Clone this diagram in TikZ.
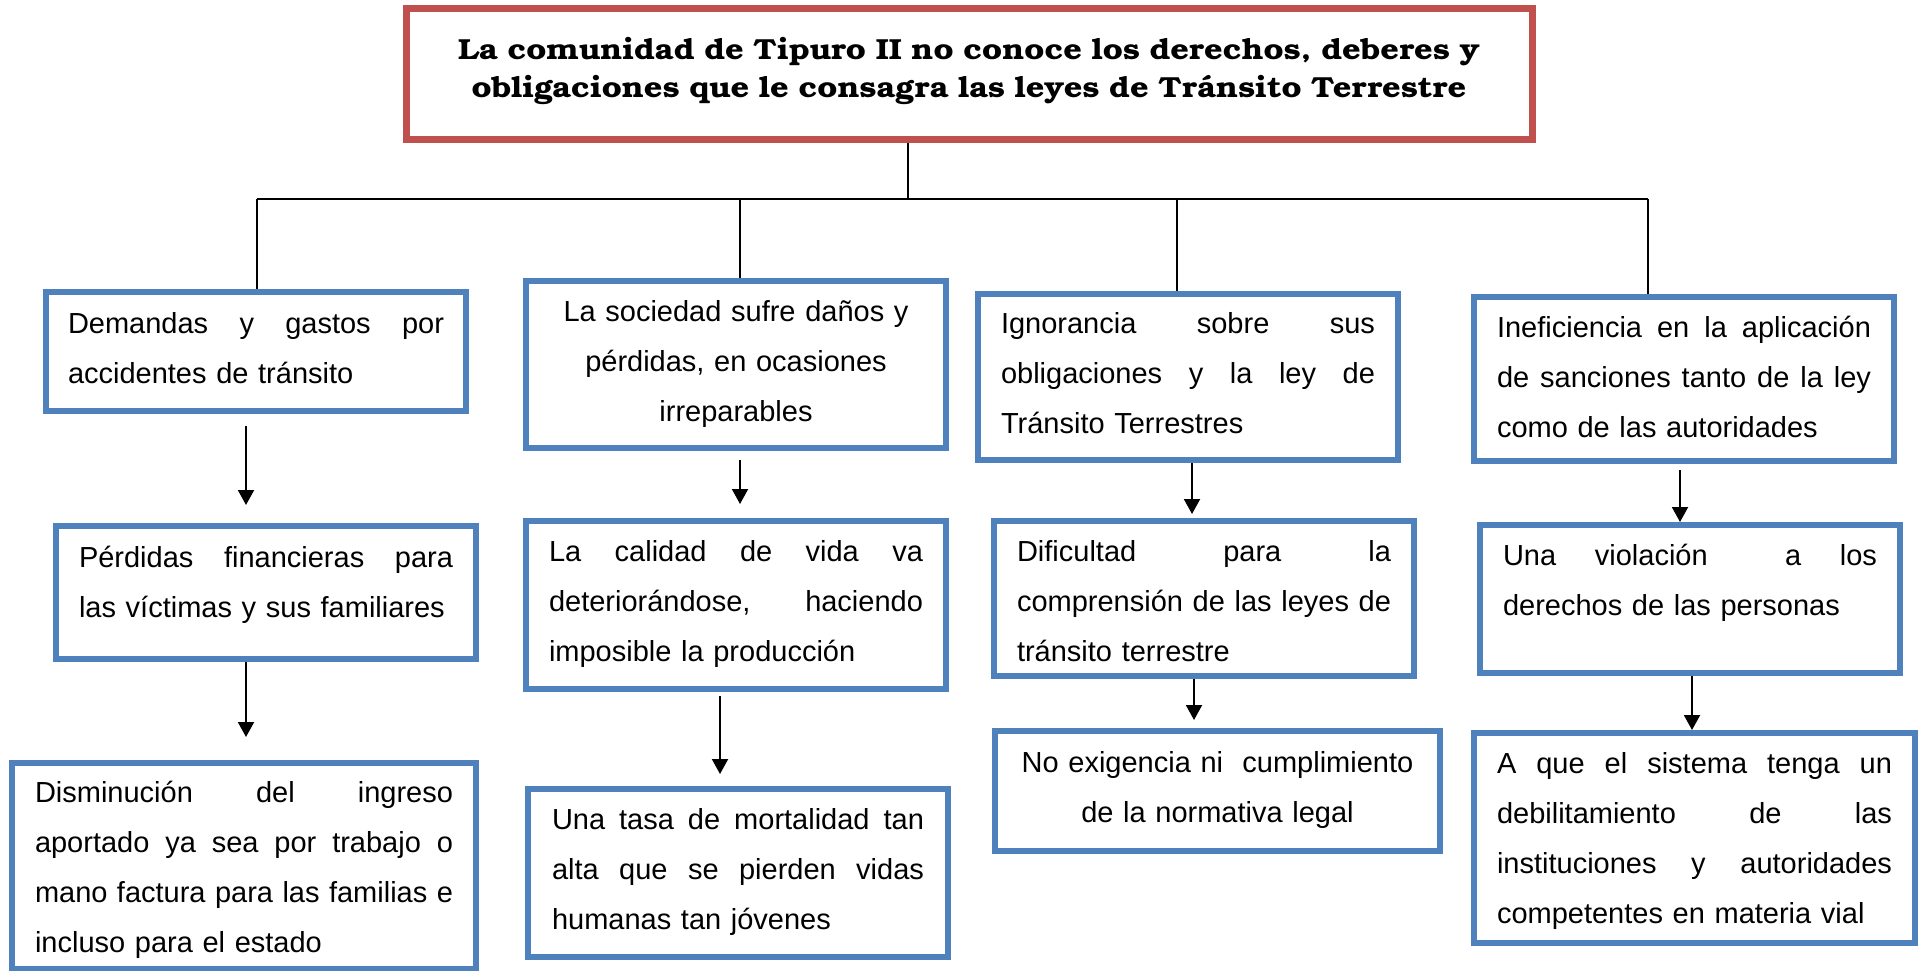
\documentclass[tikz,border=0pt]{standalone}
\usepackage{fontspec}
\newfontfamily\bodyfont{Liberation Sans}
\newfontfamily\titlefont{TeX Gyre Bonum}[FakeStretch=1.12]
\usetikzlibrary{arrows.meta,calc}
\definecolor{boxblue}{RGB}{79,129,189}
\definecolor{boxred}{RGB}{192,80,77}
\newcommand{\jl}[1]{\leavevmode\hbox to \hsize{#1}\par}
\newcommand{\ql}[1]{\leavevmode\hbox to \hsize{#1\hfil}\par}
\newcommand{\ctl}[1]{\leavevmode\hbox to \hsize{\hfil#1\hfil}\par}
\hbadness=10000
\begin{document}
\begin{tikzpicture}[x=1pt,y=-1pt,
  cbox/.style={draw=boxblue, line width=6.5pt, inner ysep=0pt, outer sep=0pt,
    anchor=north west, font=\bodyfont\fontsize{29}{50}\selectfont},
  tbox/.style={draw=boxred, line width=7pt, inner ysep=0pt, outer sep=0pt,
    anchor=north west, font=\titlefont\bfseries\fontsize{29}{38}\selectfont},
  conn/.style={line width=2pt},
  arr/.style={line width=2pt, -{Triangle[width=16pt,length=15pt]}}]
\useasboundingbox (0,0) rectangle (1927,971);

\node[tbox, inner xsep=20pt, text width=1086pt, text height=51pt, text depth=80pt] (top) at (406,9)
 {\ctl{La comunidad de Tipuro II no conoce los derechos, deberes y}\ctl{obligaciones que le consagra las leyes de Tránsito Terrestre}};

\node[cbox, inner xsep=22pt, text width=376pt, text height=41pt, text depth=78pt] (b1) at (46,292)
 {\jl{Demandas\hfill y\hfill gastos\hfill por}\ql{accidentes de tránsito}};
\node[cbox, inner xsep=23pt, text width=374pt, text height=41pt, text depth=92pt] (b2) at (56,526)
 {\jl{Pérdidas\hfill financieras\hfill para}\ql{las víctimas y sus familiares}};
\node[cbox, inner xsep=23pt, text width=418pt, text height=39pt, text depth=167pt] (b3) at (12,763)
 {\jl{Disminución\hfill del\hfill ingreso}\jl{aportado\hfill ya\hfill sea\hfill por\hfill trabajo\hfill o}\jl{mano\hfill factura\hfill para\hfill las\hfill familias\hfill e}\ql{incluso para el estado}};

\node[cbox, inner xsep=23pt, text width=374pt, text height=40pt, text depth=127pt] (soc) at (526,281)
 {\ctl{La sociedad sufre daños y}\ctl{pérdidas, en ocasiones}\ctl{irreparables}};
\node[cbox, inner xsep=23pt, text width=374pt, text height=40pt, text depth=128pt] (cal) at (526,521)
 {\jl{La\hfill calidad\hfill de\hfill vida\hfill va}\jl{deteriorándose,\hfill haciendo}\ql{imposible la producción}};
\node[cbox, inner xsep=24pt, text width=372pt, text height=40pt, text depth=128pt] (tasa) at (528,789)
 {\jl{Una\hfill tasa\hfill de\hfill mortalidad\hfill tan}\jl{alta\hfill que\hfill se\hfill pierden\hfill vidas}\ql{humanas tan jóvenes}};

\node[cbox, inner xsep=23pt, text width=374pt, text height=39pt, text depth=127pt] (ign) at (978,294)
 {\jl{Ignorancia\hfill sobre\hfill sus}\jl{obligaciones\hfill y\hfill la\hfill ley\hfill de}\ql{Tránsito Terrestres}};
\node[cbox, inner xsep=23pt, text width=374pt, text height=40pt, text depth=115pt] (dif) at (994,521)
 {\jl{Dificultad\hfill para\hfill la}\jl{comprensión\hfill de\hfill las\hfill leyes\hfill de}\ql{tránsito terrestre}};
\node[cbox, inner xsep=23pt, text width=399pt, text height=41pt, text depth=79pt] (noex) at (995,731)
 {\ctl{No exigencia ni\ \ cumplimiento}\ctl{de la normativa legal}};

\node[cbox, inner xsep=23pt, text width=374pt, text height=40pt, text depth=124pt] (inef) at (1474,297)
 {\jl{Ineficiencia\hfill en\hfill la\hfill aplicación}\jl{de\hfill sanciones\hfill tanto\hfill de\hfill la\hfill ley}\ql{como de las autoridades}};
\node[cbox, inner xsep=23pt, text width=374pt, text height=40pt, text depth=108pt] (viol) at (1480,525)
 {\jl{Una\hfill violación\hfill\hfill a\hfill los}\ql{derechos de las personas}};
\node[cbox, inner xsep=23pt, text width=395pt, text height=40pt, text depth=170pt] (aque) at (1474,733)
 {\jl{A\hfill que\hfill el\hfill sistema\hfill tenga\hfill un}\jl{debilitamiento\hfill de\hfill las}\jl{instituciones\hfill y\hfill autoridades}\ql{competentes en materia vial}};

% tree
\coordinate (hl) at (257,199);
\coordinate (hr) at (1648,199);
\draw[conn] ([xshift=-61pt,yshift=-3.5pt]top.south) -- ([xshift=-61pt]top.south |- hl);
\draw[conn] (hl) -- (hr);
\draw[conn] (hl) -- ([yshift=3.25pt]hl |- b1.north);
\draw[conn] ([xshift=4pt]soc.north |- hl) -- ([xshift=4pt,yshift=3.25pt]soc.north);
\draw[conn] ([xshift=-11pt]ign.north |- hl) -- ([xshift=-11pt,yshift=3.25pt]ign.north);
\draw[conn] (hr) -- ([yshift=3.25pt]hr |- inef.north);

% arrows
\draw[arr] ([xshift=-10pt,yshift=-15pt]b1.south) -- ([xshift=-20pt,yshift=21pt]b2.north);
\draw[arr] ([xshift=-20pt,yshift=-3pt]b2.south) -- ([xshift=2pt,yshift=26pt]b3.north);
\draw[arr] ([xshift=4pt,yshift=-12pt]soc.south) -- ([xshift=4pt,yshift=17pt]cal.north);
\draw[arr] ([xshift=-16pt,yshift=-7pt]cal.south) -- ([xshift=-18pt,yshift=15pt]tasa.north);
\draw[arr] ([xshift=4pt,yshift=-3pt]ign.south) -- ([xshift=-12pt,yshift=7pt]dif.north);
\draw[arr] ([xshift=-10pt,yshift=-3pt]dif.south) -- ([xshift=-23.5pt,yshift=11pt]noex.north);
\draw[arr] ([xshift=-4pt,yshift=-9pt]inef.south) -- ([xshift=-10pt,yshift=3pt]viol.north);
\draw[arr] ([xshift=2pt,yshift=-3pt]viol.south) -- ([xshift=-2.5pt,yshift=3pt]aque.north);
\end{tikzpicture}
\end{document}
